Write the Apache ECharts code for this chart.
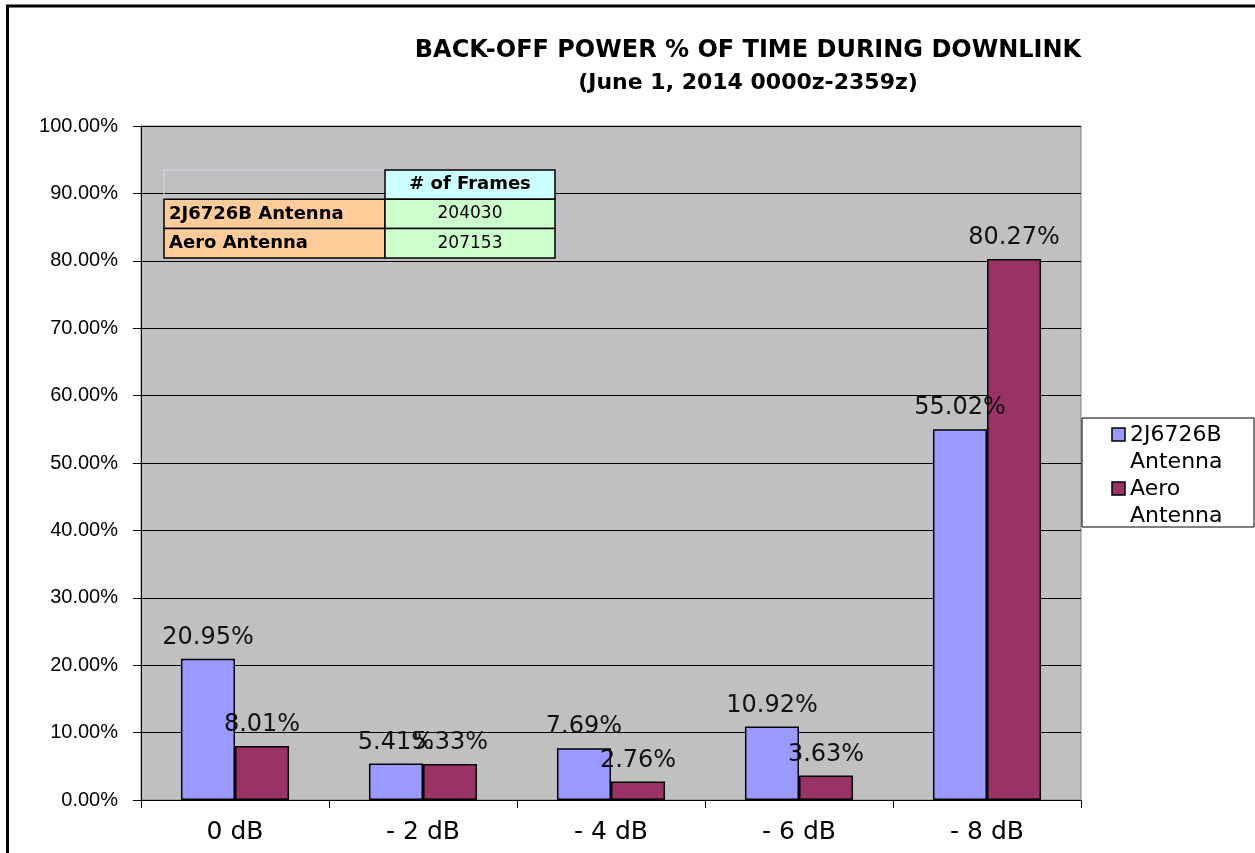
<!DOCTYPE html>
<html>
<head>
<meta charset="utf-8">
<script src="https://cdn.jsdelivr.net/npm/echarts@6/dist/echarts.min.js"></script>
<style>html,body{margin:0;padding:0;background:#fff;}#c{width:1255px;height:853px;}</style>
</head>
<body>
<div id="c"></div>
<script>
const categories = ['0 dB', '- 2 dB', '- 4 dB', '- 6 dB', '- 8 dB'];
const seriesNames = ['2J6726B Antenna', 'Aero Antenna'];
const antenna2J = [20.95, 5.41, 7.69, 10.92, 55.02];
const aeroAntenna = [8.01, 5.33, 2.76, 3.63, 80.27];
const tableHeader = '# of Frames';
const tableRows = ['2J6726B Antenna', 'Aero Antenna'];
const tableFrames = [204030, 207153];
const titleLines = ['BACK-OFF POWER % OF TIME DURING DOWNLINK', '(June 1, 2014 0000z-2359z)'];

const FONT = 'DejaVu Sans';
const colors = ['#9999ff', '#993366'];

const chart = echarts.init(document.getElementById('c'), null, {renderer: 'canvas'});

const labelOpt = {
  show: true, position: 'top', distance: 9,
  fontFamily: FONT, fontSize: 24, color: '#111',
  formatter: p => p.value.toFixed(2) + '%'
};

const tx = 164, tc = 385, tr = 555, ty0 = 170, rh = 29.3;
const g = [];
g.push({type: 'polyline', z: 200, shape: {points: [[7.5, 853], [7.5, 6], [1255, 6]]}, style: {stroke: '#000', lineWidth: 3, fill: null}});
g.push({type: 'polyline', z: 100, shape: {points: [[tx, ty0 + rh], [tx, ty0], [tc, ty0]]}, style: {stroke: '#d0d8e8', lineWidth: 1, fill: null}});
g.push({type: 'rect', z: 100, shape: {x: tc, y: ty0, width: tr - tc, height: rh}, style: {fill: '#ccffff', stroke: '#000', lineWidth: 1.5}});
g.push({type: 'text', z: 101, style: {x: (tc + tr) / 2, y: ty0 + rh / 2, text: tableHeader, align: 'center', verticalAlign: 'middle', font: 'bold 18px "DejaVu Sans"', fill: '#000'}});
tableRows.forEach((name, i) => {
  const y = ty0 + rh * (i + 1);
  g.push({type: 'rect', z: 100, shape: {x: tx, y: y, width: tc - tx, height: rh}, style: {fill: '#ffcc99', stroke: '#000', lineWidth: 1.5}});
  g.push({type: 'rect', z: 100, shape: {x: tc, y: y, width: tr - tc, height: rh}, style: {fill: '#ccffcc', stroke: '#000', lineWidth: 1.5}});
  g.push({type: 'text', z: 101, style: {x: tx + 5, y: y + rh / 2, text: name, align: 'left', verticalAlign: 'middle', font: 'bold 18px "DejaVu Sans"', fill: '#000'}});
  g.push({type: 'text', z: 101, style: {x: (tc + tr) / 2, y: y + rh / 2, text: String(tableFrames[i]), align: 'center', verticalAlign: 'middle', font: '17px "DejaVu Sans"', fill: '#000'}});
});
const lx = 1082, ly = 418;
g.push({type: 'rect', z: 100, shape: {x: lx, y: ly, width: 172, height: 109}, style: {fill: '#fff', stroke: '#000', lineWidth: 1}});
seriesNames.forEach((name, i) => {
  const parts = name.split(' ');
  const y0 = ly + 17 + i * 54;
  g.push({type: 'rect', z: 101, shape: {x: 1112, y: y0 - 7, width: 13, height: 13}, style: {fill: colors[i], stroke: '#000', lineWidth: 1.5}});
  g.push({type: 'text', z: 101, style: {x: 1130, y: y0, text: parts[0], align: 'left', verticalAlign: 'middle', font: '22px "DejaVu Sans"', fill: '#000'}});
  g.push({type: 'text', z: 101, style: {x: 1130, y: y0 + 27, text: parts[1], align: 'left', verticalAlign: 'middle', font: '22px "DejaVu Sans"', fill: '#000'}});
});

chart.setOption({
  animation: false,
  backgroundColor: '#fff',
  title: {
    text: '{a|' + titleLines[0] + '}\n{b|' + titleLines[1] + '}',
    left: 743, top: 30, textAlign: 'center',
    textStyle: {
      align: 'center',
      rich: {
        a: {fontFamily: FONT, fontWeight: 'bold', fontSize: 24, color: '#000', lineHeight: 32, align: 'center'},
        b: {fontFamily: FONT, fontWeight: 'bold', fontSize: 22, color: '#000', lineHeight: 32, align: 'center'}
      }
    }
  },
  grid: {
    left: 141, right: 174, top: 126, bottom: 53,
    show: true, backgroundColor: '#c0c0c0', borderColor: '#808080', borderWidth: 1
  },
  xAxis: {
    type: 'category', data: categories,
    axisLine: {lineStyle: {color: '#000', width: 1}},
    axisTick: {show: true, length: 8, lineStyle: {color: '#000'}},
    axisLabel: {fontFamily: FONT, fontSize: 25, color: '#000', margin: 20}
  },
  yAxis: {
    type: 'value', min: 0, max: 100, interval: 10,
    axisLine: {show: true, lineStyle: {color: '#000', width: 1}},
    axisTick: {show: true, length: 8, lineStyle: {color: '#000'}},
    axisLabel: {fontFamily: 'Liberation Sans', fontSize: 20, color: '#000', margin: 23, formatter: v => v.toFixed(2) + '%'},
    splitLine: {show: true, lineStyle: {color: '#000', width: 1}}
  },
  series: [
    {name: seriesNames[0], type: 'bar', data: antenna2J, barGap: '0%', barCategoryGap: '42.5%',
     itemStyle: {color: colors[0], borderColor: '#000', borderWidth: 1.5}, label: labelOpt},
    {name: seriesNames[1], type: 'bar', data: aeroAntenna,
     itemStyle: {color: colors[1], borderColor: '#000', borderWidth: 1.5}, label: labelOpt}
  ],
  graphic: g
});
</script>
</body>
</html>
